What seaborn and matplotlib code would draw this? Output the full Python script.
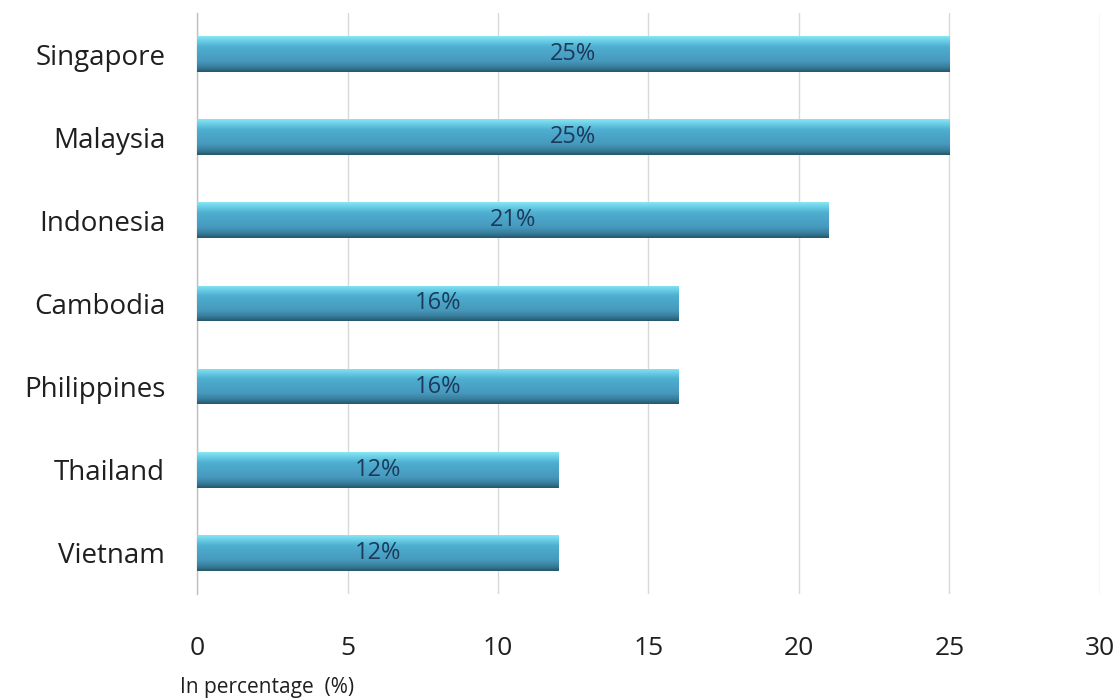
import numpy as np
import pandas as pd
import matplotlib
matplotlib.use("Agg")
import matplotlib.pyplot as plt
import matplotlib.colors as mcolors
import seaborn as sns

countries = ["Singapore", "Malaysia", "Indonesia", "Cambodia", "Philippines", "Thailand", "Vietnam"]
shares = [25, 25, 21, 16, 16, 12, 12]
x_ticks = [0, 5, 10, 15, 20, 25, 30]

df = pd.DataFrame({"country": countries, "share": shares})

sns.set_theme(style="white")
plt.rcParams["font.family"] = ["Open Sans", "DejaVu Sans"]

fig = plt.figure(figsize=(11.2, 7), dpi=100)
ax = fig.add_axes([0.176, 0.151, 0.806, 0.831])

sns.barplot(data=df, x="share", y="country", orient="h", color="#4aa3c6",
            width=0.43, ax=ax, zorder=3)

# vertical cylinder-like shading on each bar
cmap = mcolors.LinearSegmentedColormap.from_list(
    "barshade",
    [(0.0, "#8ae6f4"), (0.12, "#6cd0e6"), (0.3, "#4eaed0"),
     (0.7, "#4699bd"), (0.88, "#377a98"), (1.0, "#25566a")])
grad = np.linspace(0, 1, 256).reshape(-1, 1)
for patch in ax.patches:
    x0, y0 = patch.get_x(), patch.get_y()
    w, h = patch.get_width(), patch.get_height()
    im = ax.imshow(grad, cmap=cmap, aspect="auto",
                   extent=[x0, x0 + w, y0 + h, y0], zorder=4,
                   interpolation="bicubic")
    im.set_clip_path(patch)
    patch.set_edgecolor("none")

ax.set_xlim(0, 30)
ax.set_ylim(6.5, -0.5)
ax.set_xticks(x_ticks)
ax.set_xticklabels([str(t) for t in x_ticks])
ax.grid(axis="x", color="#d9d9d9", linewidth=1, zorder=0)
ax.grid(axis="y", visible=False)

for s in ["top", "right", "bottom"]:
    ax.spines[s].set_visible(False)
ax.spines["left"].set_color("#bfbfbf")
ax.spines["left"].set_linewidth(1)

ax.tick_params(axis="x", length=0, labelsize=19, colors="#1f1f1f", pad=30)
ax.tick_params(axis="y", length=0, labelsize=20, colors="#1f1f1f", pad=23)
ax.set_ylabel("")
ax.set_xlabel("")

for i, v in enumerate(shares):
    ax.text(v / 2, i, f"{v}%", ha="center", va="center", fontsize=17,
            color="#1c3a5a", zorder=6)

fig.text(180 / 1120, 1 - 688 / 700, "In percentage  (%)", ha="left", va="center",
         fontsize=15, color="#1f1f1f")

fig.savefig("out.png", dpi=100, facecolor="white")
